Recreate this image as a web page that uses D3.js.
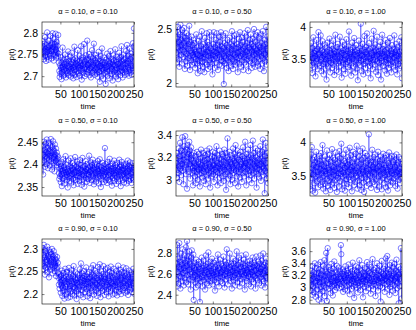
<!DOCTYPE html>
<html>
<head>
<meta charset="utf-8">
<script src="https://cdn.jsdelivr.net/npm/d3@7"></script>
<style>
body { margin: 0; background: #fff; }
text { font-family: "Liberation Sans", Arial, sans-serif; fill: #000; }
</style>
</head>
<body>
<svg width="416" height="330"></svg>
<script>
'use strict';

var alphas = [0.1, 0.5, 0.9];
var sigmas = [0.1, 0.5, 1.0];
var timeTicks = [50, 100, 150, 200, 250];

// alpha = 0.10
var p_a10_s10 = [
2.752,2.781,2.745,2.768,2.739,2.775,2.758,2.790,2.748,2.763,2.735,2.771,2.756,2.801,2.744,2.766,2.760,2.738,2.782,2.751,2.769,2.747,2.793,2.758,2.772,
2.741,2.776,2.762,2.799,2.750,2.767,2.736,2.785,2.757,2.774,2.749,2.798,2.761,2.743,2.779,2.755,2.770,2.746,2.795,2.752,2.731,2.712,2.698,2.725,2.706,
2.744,2.719,2.693,2.731,2.709,2.766,2.722,2.701,2.738,2.715,2.728,2.704,2.750,2.719,2.697,2.733,2.712,2.740,2.724,2.706,2.757,2.718,2.702,2.735,2.721,
2.711,2.745,2.699,2.728,2.716,2.754,2.707,2.732,2.720,2.695,2.738,2.714,2.768,2.722,2.703,2.741,2.717,2.729,2.698,2.736,2.711,2.760,2.725,2.706,2.733,
2.719,2.747,2.701,2.730,2.713,2.769,2.724,2.692,2.737,2.716,2.743,2.708,2.727,2.774,2.718,2.700,2.734,2.721,2.748,2.705,2.739,2.716,2.782,2.726,2.709,
2.737,2.714,2.751,2.702,2.729,2.718,2.745,2.697,2.733,2.722,2.760,2.708,2.726,2.741,2.711,2.775,2.719,2.703,2.736,2.715,2.749,2.706,2.731,2.720,2.742,
2.699,2.728,2.714,2.756,2.709,2.735,2.687,2.723,2.747,2.712,2.730,2.701,2.764,2.718,2.733,2.694,2.726,2.715,2.743,2.707,2.731,2.719,2.682,2.738,2.722,
2.710,2.752,2.716,2.701,2.734,2.724,2.746,2.695,2.729,2.713,2.758,2.720,2.705,2.740,2.717,2.732,2.690,2.727,2.748,2.711,2.736,2.704,2.725,2.762,2.714,
2.699,2.733,2.718,2.745,2.708,2.728,2.693,2.739,2.716,2.754,2.711,2.730,2.702,2.744,2.721,2.769,2.713,2.735,2.697,2.727,2.750,2.709,2.738,2.719,2.703,
2.741,2.716,2.758,2.711,2.729,2.772,2.706,2.735,2.720,2.747,2.701,2.731,2.764,2.715,2.739,2.708,2.752,2.724,2.703,2.745,2.718,2.776,2.712,2.768,2.810];
var p_a10_s50 = [
2.28,2.41,2.19,2.52,2.33,2.47,2.22,2.38,2.15,2.45,2.30,2.54,2.26,2.40,2.35,2.18,2.49,2.31,2.43,2.24,2.37,2.51,2.29,2.13,2.42,
2.34,2.20,2.46,2.27,2.39,2.16,2.32,2.44,2.23,2.36,2.53,2.25,2.12,2.38,2.30,2.21,2.43,2.28,2.17,2.35,2.26,2.40,2.19,2.31,2.24,
2.37,2.14,2.29,2.22,2.45,2.27,2.18,2.33,2.09,2.26,2.39,2.21,2.30,2.16,2.43,2.25,2.11,2.34,2.23,2.48,2.20,2.28,2.15,2.36,2.24,
2.31,2.10,2.27,2.42,2.19,2.33,2.26,2.46,2.17,2.29,2.38,2.13,2.25,2.35,2.21,2.47,2.28,2.15,2.32,2.23,2.44,2.18,2.30,2.08,2.26,
2.36,2.22,2.47,2.29,2.14,2.33,2.25,2.40,2.19,2.28,2.46,2.23,2.35,2.12,2.31,2.26,2.43,2.17,2.38,2.24,2.30,2.47,2.21,2.34,2.16,
2.27,2.44,2.20,2.32,1.99,2.25,2.37,2.18,2.29,2.46,2.23,2.35,2.14,2.30,2.40,2.21,2.27,2.11,2.33,2.24,2.42,2.19,2.28,2.36,2.16,
2.31,2.48,2.22,2.34,2.13,2.27,2.39,2.20,2.44,2.26,2.17,2.32,2.24,2.45,2.19,2.36,2.28,2.10,2.33,2.23,2.41,2.18,2.29,2.47,2.25,
2.35,2.15,2.30,2.42,2.21,2.27,2.38,2.12,2.32,2.24,2.46,2.19,2.34,2.26,2.43,2.17,2.29,2.37,2.22,2.49,2.25,2.11,2.33,2.28,2.40,
2.20,2.31,2.45,2.23,2.36,2.14,2.29,2.41,2.18,2.34,2.26,2.50,2.21,2.32,2.15,2.38,2.27,2.44,2.19,2.30,2.24,2.47,2.16,2.35,2.28,
2.42,2.22,2.33,2.13,2.29,2.45,2.25,2.37,2.18,2.31,2.48,2.23,2.34,2.11,2.27,2.40,2.20,2.36,2.26,2.52,2.17,2.32,2.43,2.24,2.30];
var p_a10_s100 = [
3.62,3.48,3.75,3.41,3.58,3.29,3.67,3.52,3.84,3.45,3.60,3.38,3.71,3.55,3.24,3.63,3.47,3.80,3.51,3.66,3.35,3.57,3.92,3.44,3.59,
3.70,3.40,3.54,3.87,3.49,3.32,3.64,3.53,3.78,3.43,3.61,3.27,3.56,3.73,3.46,3.58,3.36,3.68,3.50,3.19,3.62,3.44,3.76,3.55,3.39,
3.65,3.48,3.82,3.52,3.30,3.60,3.45,3.71,3.57,3.37,3.66,3.50,3.79,3.42,3.59,3.26,3.63,3.54,3.88,3.47,3.61,3.33,3.69,3.51,3.44,
3.74,3.56,3.31,3.62,3.47,3.85,3.53,3.40,3.67,3.58,3.22,3.60,3.49,3.77,3.45,3.64,3.35,3.57,3.72,3.50,3.28,3.66,3.43,3.81,3.55,
3.46,3.63,3.38,3.70,3.52,3.93,3.48,3.59,3.34,3.65,3.54,3.25,3.61,3.44,3.76,3.51,3.68,3.39,3.57,3.83,3.47,3.62,3.30,3.58,3.72,
3.49,3.36,3.64,3.55,3.18,3.60,3.45,3.79,3.52,3.67,3.41,3.57,4.05,3.48,3.63,3.32,3.56,3.74,3.50,3.27,3.65,3.43,3.86,3.54,3.61,
3.37,3.69,3.47,3.58,3.90,3.53,3.29,3.64,3.46,3.75,3.55,3.40,3.66,3.51,3.21,3.60,3.44,3.82,3.57,3.35,3.68,3.49,3.94,3.53,3.62,
3.42,3.73,3.50,3.31,3.64,3.56,3.85,3.47,3.61,3.26,3.58,3.70,3.45,3.63,3.38,3.77,3.52,3.19,3.59,3.48,3.88,3.55,3.66,3.40,3.57,
3.71,3.46,3.62,3.33,3.54,3.80,3.49,3.65,3.28,3.59,3.44,3.76,3.52,3.37,3.67,3.50,3.83,3.56,3.42,3.63,3.30,3.58,3.72,3.47,3.60,
3.39,3.66,3.53,3.87,3.45,3.61,3.34,3.57,3.74,3.48,3.64,3.27,3.55,3.69,3.43,3.59,3.36,3.78,3.51,3.62,3.40,3.56,3.84,3.68,3.21];

// alpha = 0.50
var p_a50_s10 = [
2.405,2.441,2.378,2.422,2.451,2.409,2.433,2.395,2.447,2.418,2.428,2.401,2.456,2.415,2.437,2.392,2.424,2.449,2.411,2.430,2.398,2.443,2.419,2.457,2.407,
2.426,2.389,2.439,2.414,2.452,2.403,2.431,2.417,2.385,2.445,2.422,2.408,2.436,2.399,2.427,2.413,2.420,2.404,2.416,2.395,2.381,2.368,2.402,2.374,2.390,
2.361,2.397,2.378,2.352,2.405,2.386,2.369,2.412,2.381,2.394,2.358,2.388,2.373,2.419,2.383,2.365,2.400,2.377,2.391,2.349,2.385,2.372,2.409,2.380,2.363,
2.396,2.375,2.414,2.387,2.360,2.393,2.379,2.403,2.368,2.389,2.354,2.398,2.382,2.371,2.417,2.384,2.366,2.395,2.376,2.407,2.386,2.357,2.392,2.374,2.401,
2.381,2.364,2.410,2.389,2.372,2.399,2.355,2.386,2.378,2.415,2.383,2.367,2.394,2.376,2.351,2.397,2.385,2.408,2.370,2.390,2.362,2.401,2.379,2.388,2.368,
2.393,2.377,2.420,2.384,2.359,2.396,2.373,2.405,2.387,2.366,2.399,2.380,2.411,2.374,2.391,2.356,2.388,2.403,2.369,2.395,2.382,2.362,2.400,2.376,2.390,
2.371,2.408,2.385,2.358,2.397,2.379,2.412,2.374,2.389,2.350,2.394,2.381,2.367,2.404,2.386,2.375,2.398,2.361,2.390,2.378,2.437,2.383,2.365,2.401,2.373,
2.392,2.359,2.386,2.406,2.377,2.395,2.366,2.388,2.413,2.380,2.362,2.397,2.374,2.391,2.353,2.385,2.402,2.370,2.393,2.379,2.409,2.364,2.387,2.376,2.399,
2.381,2.357,2.394,2.372,2.404,2.386,2.363,2.390,2.377,2.411,2.368,2.395,2.383,2.352,2.398,2.375,2.406,2.388,2.366,2.392,2.379,2.400,2.360,2.387,2.373,
2.396,2.369,2.402,2.382,2.358,2.391,2.376,2.409,2.385,2.364,2.397,2.374,2.389,2.405,2.367,2.393,2.380,2.359,2.398,2.384,2.371,2.403,2.388,2.366,2.392];
var p_a50_s50 = [
3.15,3.02,3.24,3.09,3.19,3.06,3.28,3.12,2.98,3.21,3.33,3.10,3.17,3.04,3.26,3.14,3.38,3.08,3.22,2.96,3.18,3.30,3.11,3.25,3.39,
3.13,3.05,3.27,3.16,2.92,3.20,3.31,3.10,3.23,3.07,3.34,3.14,3.26,3.01,3.19,3.29,3.12,3.22,3.06,3.17,2.95,3.11,3.24,3.08,3.15,
3.03,3.21,3.12,2.97,3.18,3.07,3.25,3.10,3.00,3.16,3.09,3.23,3.05,3.14,2.94,3.19,3.11,3.27,3.06,3.13,3.02,3.20,3.08,3.24,3.10,
2.99,3.17,3.07,3.22,3.12,2.96,3.15,3.26,3.04,3.18,3.09,3.23,3.01,3.14,3.06,3.28,3.11,2.93,3.19,3.08,3.16,3.03,3.21,3.10,3.25,
3.05,3.13,2.98,3.20,3.09,3.24,3.04,3.17,3.11,3.30,3.07,3.15,2.95,3.22,3.12,3.06,3.19,3.02,3.26,3.10,3.14,2.97,3.18,3.08,3.23,
3.11,3.03,3.21,3.16,2.99,3.27,3.09,3.13,3.05,3.24,2.91,3.15,3.20,3.07,3.37,3.12,3.01,3.18,3.10,3.25,3.04,3.16,2.96,3.22,3.08,
3.14,3.00,3.19,3.11,3.28,3.06,3.17,3.09,3.23,2.97,3.15,3.31,3.08,3.20,3.03,3.13,3.26,3.10,2.94,3.18,3.07,3.22,3.12,3.02,3.16,
3.25,3.09,3.14,2.98,3.21,3.06,3.29,3.11,3.17,3.03,3.19,3.12,3.34,3.07,3.15,2.95,3.23,3.10,3.18,3.05,3.27,3.13,3.00,3.20,3.08,
3.16,3.31,3.04,3.22,3.11,2.97,3.19,3.09,3.35,3.14,3.06,3.24,3.01,3.17,3.12,3.28,3.07,3.20,2.93,3.15,3.10,3.26,3.05,3.18,3.13,
3.02,3.23,3.09,3.30,3.14,2.99,3.19,3.07,3.25,3.12,3.36,3.04,3.17,3.10,3.27,2.88,3.21,3.08,3.33,3.15,3.01,3.24,3.11,3.06,2.97];
var p_a50_s100 = [
3.55,3.30,3.82,3.47,3.93,3.61,3.28,3.74,3.52,3.66,3.39,3.78,3.58,3.25,3.70,3.49,3.86,3.63,3.42,3.76,3.56,3.33,3.68,3.51,3.80,
3.45,3.72,3.60,3.36,3.84,3.54,3.67,3.41,3.96,3.58,3.31,3.73,3.50,3.64,3.38,3.79,3.57,3.27,3.69,3.53,3.88,3.46,3.62,3.35,3.75,
3.59,3.43,3.81,3.55,3.29,3.71,3.48,3.65,3.37,3.90,3.56,3.40,3.77,3.52,3.63,3.32,3.74,3.58,3.44,3.85,3.50,3.68,3.26,3.61,3.79,
3.47,3.70,3.54,3.34,3.87,3.60,3.42,3.76,3.53,3.98,3.57,3.30,3.66,3.49,3.82,3.55,3.39,3.72,3.62,3.28,3.69,3.51,3.89,3.45,3.64,
3.38,3.78,3.56,3.67,3.33,3.73,3.48,3.92,3.59,3.44,3.81,3.52,3.63,3.27,3.70,3.57,3.86,3.46,3.65,3.36,3.75,3.54,3.41,3.83,3.58,
3.50,3.95,3.62,3.31,3.71,3.55,3.43,3.79,3.58,3.36,3.87,3.53,3.68,3.29,3.74,3.47,3.60,3.91,3.56,3.40,3.77,3.26,3.64,3.52,3.84,
3.48,3.69,3.57,3.35,3.80,3.61,3.44,3.73,3.53,4.12,3.59,3.38,3.76,3.50,3.66,3.32,3.71,3.55,3.89,3.46,3.63,3.41,3.78,3.56,3.67,
3.37,3.82,3.54,3.70,3.45,3.61,3.29,3.75,3.58,3.86,3.49,3.64,3.34,3.72,3.57,3.43,3.79,3.52,3.68,3.30,3.74,3.60,3.47,3.83,3.55,
3.66,3.39,3.77,3.51,3.62,3.33,3.81,3.56,3.45,3.73,3.59,3.28,3.69,3.53,3.85,3.48,3.64,3.36,3.76,3.57,3.42,3.80,3.54,3.67,3.40,
3.71,3.58,3.46,3.79,3.52,3.63,3.35,3.74,3.55,3.82,3.49,3.66,3.31,3.70,3.57,3.44,3.78,3.53,3.61,3.39,3.75,3.56,3.48,3.68,3.54];

// alpha = 0.90
var p_a90_s10 = [
2.268,2.302,2.255,2.287,2.309,2.262,2.281,2.243,2.296,2.271,2.258,2.291,2.276,2.305,2.249,2.284,2.266,2.298,2.237,2.279,2.261,2.293,2.272,2.254,2.288,
2.265,2.300,2.277,2.246,2.283,2.259,2.295,2.270,2.251,2.286,2.263,2.278,2.240,2.274,2.257,2.282,2.261,2.269,2.248,2.236,2.221,2.244,2.212,2.238,2.226,
2.203,2.241,2.219,2.252,2.196,2.231,2.214,2.247,2.208,2.235,2.190,2.228,2.256,2.216,2.199,2.239,2.222,2.249,2.205,2.233,2.192,2.226,2.258,2.211,2.237,
2.218,2.194,2.245,2.229,2.207,2.253,2.223,2.200,2.240,2.215,2.262,2.227,2.197,2.234,2.213,2.248,2.206,2.231,2.189,2.225,2.244,2.210,2.236,2.221,2.201,
2.242,2.217,2.255,2.226,2.198,2.268,2.232,2.209,2.246,2.219,2.236,2.193,2.229,2.251,2.214,2.240,2.204,2.233,2.222,2.259,2.211,2.238,2.195,2.227,2.245,
2.216,2.234,2.202,2.249,2.224,2.191,2.237,2.213,2.257,2.228,2.206,2.243,2.220,2.264,2.230,2.199,2.239,2.215,2.252,2.225,2.208,2.246,2.221,2.196,2.235,
2.212,2.260,2.231,2.203,2.241,2.218,2.266,2.227,2.193,2.236,2.214,2.250,2.223,2.207,2.244,2.229,2.262,2.210,2.238,2.198,2.233,2.217,2.255,2.226,2.204,
2.243,2.220,2.258,2.211,2.235,2.195,2.230,2.249,2.216,2.240,2.206,2.261,2.225,2.213,2.247,2.222,2.199,2.237,2.218,2.256,2.228,2.201,2.242,2.219,2.233,
2.209,2.251,2.226,2.197,2.239,2.215,2.263,2.230,2.205,2.245,2.221,2.254,2.212,2.236,2.200,2.232,2.248,2.217,2.241,2.208,2.259,2.224,2.214,2.246,2.228,
2.203,2.240,2.219,2.257,2.231,2.206,2.244,2.223,2.198,2.237,2.215,2.252,2.227,2.210,2.243,2.220,2.248,2.213,2.234,2.204,2.239,2.225,2.256,2.218,2.201];
var p_a90_s50 = [
2.55,2.70,2.48,2.88,2.62,2.75,2.51,2.67,2.90,2.58,2.72,2.46,2.65,2.80,2.57,2.69,2.53,2.84,2.61,2.74,2.49,2.66,2.78,2.56,2.71,
2.63,2.86,2.52,2.68,2.92,2.59,2.73,2.50,2.77,2.64,2.82,2.55,2.70,2.60,2.45,2.76,2.62,2.83,2.54,2.68,2.57,2.79,2.35,2.66,2.59,
2.71,2.52,2.64,2.47,2.74,2.58,2.67,2.55,2.69,2.49,2.62,2.72,2.56,2.65,2.33,2.60,2.70,2.53,2.63,2.76,2.57,2.48,2.66,2.59,2.73,
2.54,2.68,2.61,2.45,2.64,2.78,2.57,2.67,2.51,2.62,2.70,2.55,2.81,2.60,2.49,2.66,2.58,2.72,2.53,2.63,2.68,2.56,2.75,2.61,2.50,
2.65,2.59,2.71,2.54,2.62,2.44,2.67,2.57,2.73,2.60,2.52,2.69,2.63,2.79,2.56,2.66,2.48,2.64,2.58,2.74,2.61,2.53,2.70,2.62,2.57,
2.68,2.51,2.64,2.77,2.59,2.66,2.47,2.72,2.60,2.55,2.69,2.63,2.84,2.58,2.65,2.50,2.71,2.61,2.56,2.67,2.80,2.59,2.64,2.53,2.70,
2.62,2.46,2.68,2.57,2.75,2.63,2.54,2.70,2.59,2.66,2.49,2.73,2.61,2.56,2.82,2.64,2.52,2.69,2.60,2.76,2.58,2.65,2.48,2.71,2.62,
2.55,2.67,2.78,2.60,2.51,2.70,2.63,2.57,2.74,2.59,2.66,2.45,2.68,2.61,2.79,2.56,2.64,2.53,2.72,2.62,2.58,2.69,2.50,2.66,2.60,
2.73,2.57,2.65,2.48,2.70,2.62,2.55,2.76,2.59,2.67,2.52,2.71,2.63,2.58,2.69,2.46,2.64,2.77,2.56,2.68,2.61,2.54,2.72,2.60,2.66,
2.51,2.70,2.62,2.78,2.57,2.65,2.49,2.73,2.60,2.67,2.55,2.80,2.61,2.53,2.69,2.63,2.47,2.71,2.58,2.75,2.64,2.56,2.68,2.52,2.62];
var p_a90_s100 = [
3.12,2.95,3.28,3.05,3.20,2.88,3.35,3.14,3.02,3.25,2.92,3.18,3.40,3.08,2.85,3.22,3.11,3.32,2.97,3.16,3.04,3.38,2.80,3.24,3.09,
3.30,2.90,3.15,3.42,3.01,3.21,2.76,3.27,3.10,2.94,3.36,3.13,3.03,3.45,2.86,3.19,3.26,3.00,3.57,3.12,2.78,3.23,3.65,3.07,3.17,
3.34,2.98,3.20,3.06,3.29,2.91,3.14,3.39,3.02,3.24,3.10,2.87,3.31,3.16,3.05,3.43,3.11,2.96,3.25,3.08,3.18,3.00,3.36,3.13,3.04,
3.22,3.09,3.33,2.99,3.17,3.27,3.06,3.14,3.70,3.55,3.01,3.23,3.11,3.30,2.93,3.19,3.08,3.26,3.15,2.97,3.35,3.12,3.21,3.03,3.28,
3.10,2.95,3.24,3.16,3.38,3.05,3.20,2.89,3.13,3.31,3.07,3.18,2.98,3.27,3.11,3.41,3.02,3.22,3.14,2.83,3.29,3.09,3.19,3.04,3.35,
3.15,3.00,3.26,3.12,2.92,3.33,3.08,3.21,3.45,3.03,3.17,2.96,3.28,3.10,3.23,3.06,3.37,3.14,2.84,3.25,3.11,3.19,3.01,3.32,3.09,
3.20,2.94,3.30,3.13,3.42,3.05,3.18,3.27,2.99,3.16,3.38,3.07,3.24,3.12,2.90,3.34,3.15,3.03,3.22,3.47,3.10,2.97,3.29,3.14,3.06,
3.25,3.11,2.86,3.32,3.17,3.04,3.40,3.13,3.21,2.95,3.28,3.08,3.19,3.36,3.02,3.15,2.77,3.26,3.10,3.44,3.16,3.00,3.23,3.12,3.31,
3.07,3.20,2.93,3.35,3.14,3.48,3.05,3.24,3.11,3.52,2.98,3.18,3.30,3.09,3.22,2.88,3.37,3.13,3.01,3.27,3.16,3.41,3.06,3.19,2.95,
3.33,3.12,3.23,3.04,3.39,3.15,2.91,3.28,3.10,3.46,3.18,2.99,3.25,3.08,3.34,2.74,3.21,3.14,3.02,3.30,3.17,3.65,3.11,2.82,3.26];

var series = [
  [p_a10_s10, p_a10_s50, p_a10_s100],
  [p_a50_s10, p_a50_s50, p_a50_s100],
  [p_a90_s10, p_a90_s50, p_a90_s100]
];
var yTicks = [
  [[2.7, 2.75, 2.8], [2, 2.5], [3.5, 4]],
  [[2.35, 2.4, 2.45], [3, 3.2, 3.4], [3.5, 4]],
  [[2.2, 2.25, 2.3], [2.4, 2.6, 2.8], [2.8, 3, 3.2, 3.4, 3.6]]
];
var yLimits = [
  [[2.675, 2.825], [1.963, 2.565], [3.076, 4.076]],
  [[2.33, 2.475], [2.855, 3.436], [3.2, 4.17]],
  [[2.178, 2.322], [2.31, 2.94], [2.73, 3.8]]
];

var colLeft = [42, 176, 310];
var rowTop = [22, 131, 239];
var W = 92, H = 65;
var blue = '#0000ff';

var svg = d3.select('svg');
svg.append('rect').attr('width', 416).attr('height', 330).attr('fill', '#fff');

var x = d3.scaleLinear().domain([0, 250]).range([0, W]);

series.forEach((row, r) => {
  row.forEach((vals, c) => {
    var g = svg.append('g')
      .attr('transform', `translate(${colLeft[c]},${rowTop[r]})`);
    var y = d3.scaleLinear().domain(yLimits[r][c]).range([H, 0]);
    var fmt = d => String(+d.toFixed(2));

    var clipId = `clip${r}${c}`;
    g.append('clipPath').attr('id', clipId)
      .append('rect').attr('width', W).attr('height', H);

    var plot = g.append('g').attr('clip-path', `url(#${clipId})`);
    var line = d3.line().x((d, i) => x(i + 1)).y(d => y(d));
    plot.append('path')
      .datum(vals)
      .attr('d', line)
      .attr('fill', 'none')
      .attr('stroke', blue)
      .attr('stroke-width', 0.4);
    plot.selectAll('circle')
      .data(vals)
      .enter().append('circle')
      .attr('cx', (d, i) => x(i + 1))
      .attr('cy', d => y(d))
      .attr('r', 2.7)
      .attr('fill', 'none')
      .attr('stroke', blue)
      .attr('stroke-width', 0.5);

    // axes, ticks pointing inward like matlab
    var yAxis = g.append('g')
      .call(d3.axisLeft(y).tickValues(yTicks[r][c]).tickFormat(fmt)
        .tickSizeInner(-2.5).tickSizeOuter(0).tickPadding(4));
    var xAxis = g.append('g').attr('transform', `translate(0,${H})`)
      .call(d3.axisBottom(x).tickValues(timeTicks).tickFormat(fmt)
        .tickSizeInner(-2.5).tickSizeOuter(0).tickPadding(4));
    g.append('g').attr('transform', `translate(${W},0)`)
      .call(d3.axisRight(y).tickValues(yTicks[r][c]).tickFormat('')
        .tickSizeInner(-2.5).tickSizeOuter(0));
    g.append('g')
      .call(d3.axisTop(x).tickValues(timeTicks).tickFormat('')
        .tickSizeInner(-2.5).tickSizeOuter(0));
    g.selectAll('.domain').remove();
    g.selectAll('.tick line').attr('stroke', '#000').attr('stroke-width', 0.5);
    [yAxis, xAxis].forEach(a => a.selectAll('text')
      .style('font-family', '"Liberation Sans", Arial, sans-serif')
      .style('font-size', '10.5px')
      .attr('fill', '#000'));

    g.append('rect')
      .attr('width', W).attr('height', H)
      .attr('fill', 'none')
      .attr('stroke', '#000')
      .attr('stroke-width', 0.6);

    g.append('text')
      .attr('x', W / 2).attr('y', -8)
      .attr('text-anchor', 'middle')
      .style('font-size', '7.5px')
      .text(`α = ${alphas[r].toFixed(2)}, σ = ${sigmas[c].toFixed(2)}`);

    g.append('text')
      .attr('x', W / 2).attr('y', H + 22)
      .attr('text-anchor', 'middle')
      .style('font-size', '8px')
      .text('time');

    var bb = yAxis.node().getBBox();
    g.append('text')
      .attr('transform', `translate(${bb.x - 4},${H / 2}) rotate(-90)`)
      .attr('text-anchor', 'middle')
      .style('font-size', '8px')
      .text('p(t)');
  });
});
</script>
</body>
</html>
